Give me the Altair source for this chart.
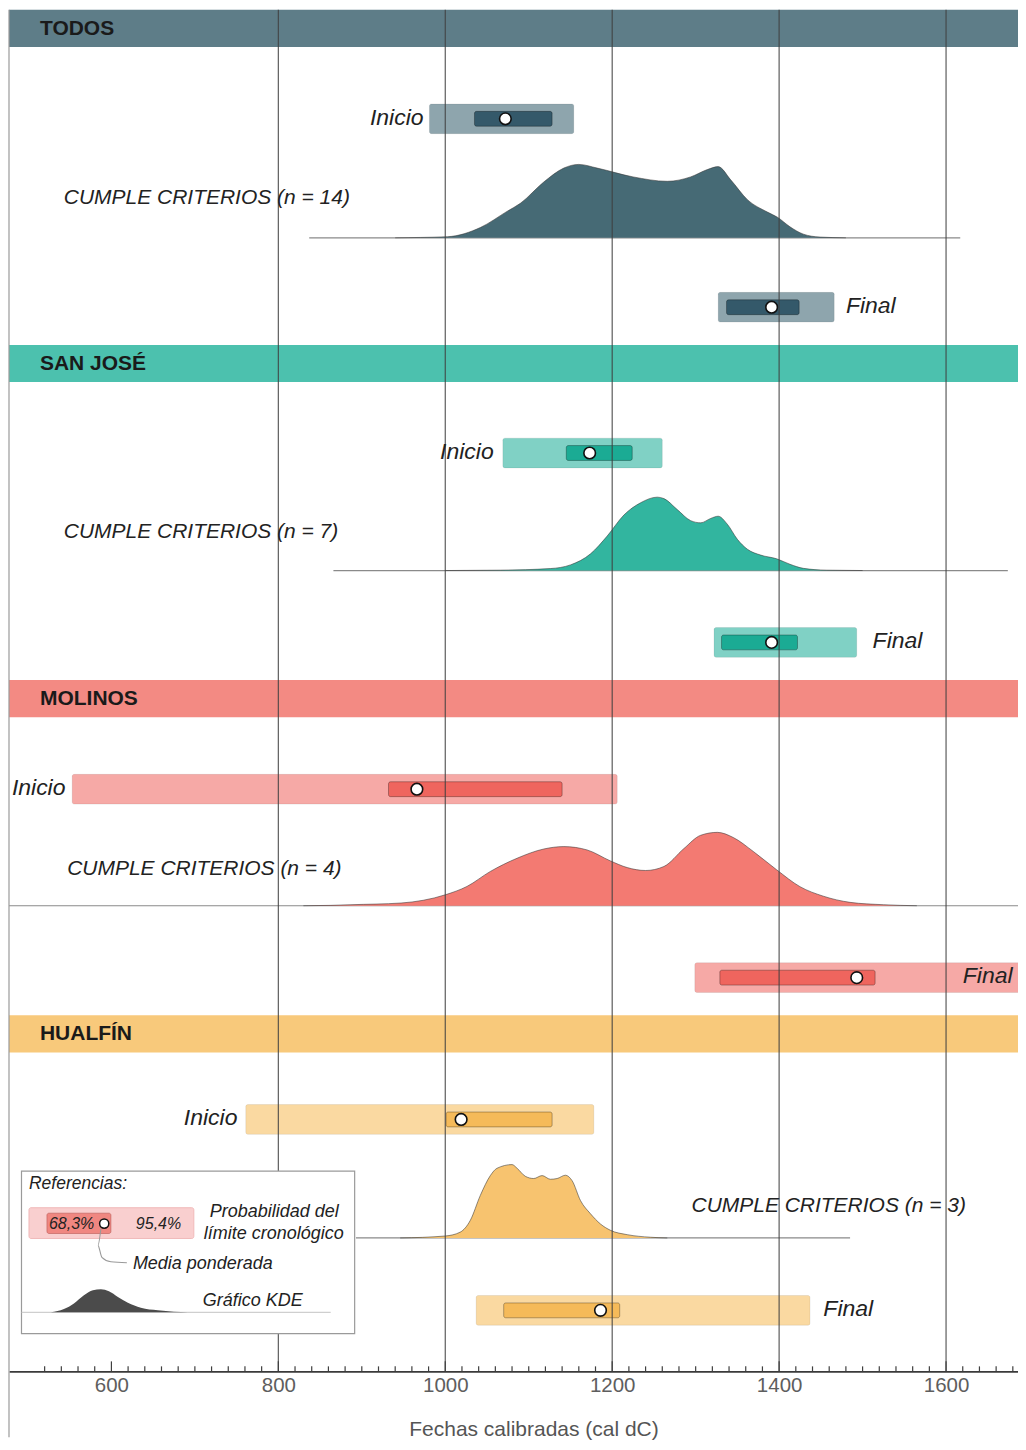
import altair as alt
import pandas as pd

# ------------------------------------------------------------------
# DATOS (años cal dC)
# ------------------------------------------------------------------
grupos = ["TODOS", "SAN JOSÉ", "MOLINOS", "HUALFÍN"]
n_fechas = [14, 7, 4, 3]

inicio_95_desde = [981, 1069, 553, 761]
inicio_95_hasta = [1154, 1260, 1206, 1178]
inicio_68_desde = [1035, 1145, 932, 1001]
inicio_68_hasta = [1128, 1224, 1140, 1128]
inicio_media = [1072, 1173, 966, 1019]

final_95_desde = [1327, 1322, 1299, 1037]
final_95_hasta = [1466, 1493, 1720, 1437]
final_68_desde = [1337, 1331, 1329, 1070]
final_68_hasta = [1424, 1422, 1515, 1209]
final_media = [1391, 1391, 1493, 1186]

# KDE (densidad relativa, % del máximo)
kde_todos_anio = [940, 970, 1003, 1042, 1074, 1090, 1118, 1142, 1160, 1182, 1225, 1266,
                  1294, 1314, 1327, 1342, 1362, 1386, 1398, 1413, 1429, 1449, 1480]
kde_todos_dens = [0, 0.5, 1.5, 14, 36, 47, 76, 95, 100, 95, 83, 77,
                  83, 93, 97, 79, 52, 35, 28, 15, 5, 1, 0]

kde_sanjose_anio = [1000, 1066, 1126, 1150, 1174, 1194, 1214, 1234, 1254, 1262, 1278, 1294,
                    1306, 1318, 1327, 1338, 1350, 1362, 1378, 1397, 1413, 1429, 1457, 1500]
kde_sanjose_dens = [0, 0.5, 2.7, 7.7, 22.7, 47, 75.6, 92.3, 100, 98, 83, 68,
                    65, 71, 74, 63, 42.5, 29, 21, 16, 8.5, 3, 0.5, 0]

kde_molinos_anio = [830, 863, 887, 947, 1000, 1026, 1054, 1086, 1118, 1142, 1170, 1198, 1218,
                    1240, 1262, 1286, 1306, 1326, 1345, 1369, 1397, 1425, 1453, 1485, 1525, 1565]
kde_molinos_dens = [0, 0.5, 1.4, 3.7, 14.9, 26.3, 46.7, 64.7, 77.3, 80.6, 76, 61, 52,
                    48, 53.5, 78, 96, 100, 93, 74, 49, 26, 13, 4.6, 1.4, 0]

kde_hualfin_anio = [946, 1000, 1018, 1030, 1042, 1054, 1062, 1080, 1086, 1096, 1106, 1116,
                    1126, 1134, 1144, 1152, 1162, 1174, 1186, 1198, 1218, 1246, 1266]
kde_hualfin_dens = [0, 2.7, 8, 24, 58, 85, 95, 100, 95, 84, 81, 85,
                    80, 81, 85.5, 78, 51, 33, 19, 10.4, 4.5, 1, 0]

kde_anios = [kde_todos_anio, kde_sanjose_anio, kde_molinos_anio, kde_hualfin_anio]
kde_dens = [kde_todos_dens, kde_sanjose_dens, kde_molinos_dens, kde_hualfin_dens]

# extensión de la línea base de cada KDE (años)
base_desde = [837, 866, 470, 893]
base_hasta = [1617, 1674, 1700, 1485]

# etiquetas
etq_inicio_x = [974, 1058, 545, 751]          # borde derecho del texto "Inicio"
etq_final_x = [1480, 1512, 1620, 1453]        # borde izquierdo del texto "Final"
etq_cumple_x = [543, 543, 547, 1295]
marcas_mayores = [600, 800, 1000, 1200, 1400, 1600]
lineas_guia = [800, 1000, 1200, 1400, 1600]
marcas_menores = [v for v in range(520, 1700, 20) if v not in marcas_mayores]

# colores
col_banda = ["#5e7d88", "#4cc1ae", "#f38a83", "#f8c97b"]
col_kde = ["#466a75", "#32b59f", "#f37a72", "#f7c36f"]
col_95 = ["#8ea5ad", "#80d1c5", "#f6a9a6", "#fad9a1"]
col_68 = ["#34596a", "#1bab94", "#ef655e", "#f5ba59"]

# leyenda: KDE esquemático (px ref)
ley_kde_x = [50, 63, 73, 83, 92, 100, 108, 117, 127, 140, 157, 173, 187]
ley_kde_h = [0, 3.3, 9, 17.3, 22.3, 23.3, 21.3, 15.6, 9.6, 4.6, 2, 0.6, 0]

# ------------------------------------------------------------------
# DISEÑO
# ------------------------------------------------------------------
W, H = 1010, 1363
Y0, Y1 = 4, 1377
X_DOM = [477.3, 1686.2]

banda_top = [4, 342, 680, 1018]
banda_alto = 37.5
y_inicio = [114, 451, 790, 1123]
y_final = [304, 642, 980, 1315.5]
y_base = [234, 569.5, 907.5, 1242.5]
y_cumple = [194, 531, 870, 1210]
kde_alto = 74
semi_95, semi_68 = 15, 7.5

FONT = "Liberation Sans"
xs = alt.Scale(domain=X_DOM, nice=False, zero=False)
ys = alt.Scale(domain=[Y0, Y1], reverse=True, nice=False, zero=False)

AX = alt.Axis(values=marcas_mayores, format="d", grid=False, ticks=False,
              domain=True, domainColor="#3a3a3a", domainWidth=1.6,
              labelFont=FONT, labelFontSize=20.5, labelColor="#5e5e5e", labelPadding=4,
              labelFlush=False, labelOverlap=False,
              title="Fechas calibradas (cal dC)", titleFont=FONT, titleFontSize=21,
              titleFontWeight="normal", titleColor="#555555",
              titleX=525, titleY=58, titleBaseline="middle", titleAlign="center")


def X(f):
    return alt.X(f, type="quantitative", scale=xs, axis=AX)


def Y(f):
    return alt.Y(f, type="quantitative", scale=ys, axis=None)


def py(v):
    return (v - Y0) * H / (Y1 - Y0)


# bandas
bandas = pd.DataFrame({
    "grupo": grupos,
    "y0": banda_top,
    "y1": [t + banda_alto for t in banda_top],
    "ym": [t + banda_alto / 2 + 0.5 for t in banda_top],
    "fill": col_banda,
})

# cajas
filas = []
for i in range(4):
    filas.append(dict(x=inicio_95_desde[i], x2=inicio_95_hasta[i], y=y_inicio[i] - semi_95,
                      y2=y_inicio[i] + semi_95, fill=col_95[i]))
    filas.append(dict(x=final_95_desde[i], x2=final_95_hasta[i], y=y_final[i] - semi_95,
                      y2=y_final[i] + semi_95, fill=col_95[i]))
cajas95 = pd.DataFrame(filas)
filas = []
for i in range(4):
    filas.append(dict(x=inicio_68_desde[i], x2=inicio_68_hasta[i], y=y_inicio[i] - semi_68,
                      y2=y_inicio[i] + semi_68, fill=col_68[i]))
    filas.append(dict(x=final_68_desde[i], x2=final_68_hasta[i], y=y_final[i] - semi_68,
                      y2=y_final[i] + semi_68, fill=col_68[i]))
cajas68 = pd.DataFrame(filas)

medias = pd.DataFrame({
    "x": inicio_media + final_media,
    "y": y_inicio + y_final,
})

# KDE
filas = []
for i in range(4):
    for a, d in zip(kde_anios[i], kde_dens[i]):
        filas.append(dict(grupo=grupos[i], x=a, ytop=y_base[i] - d / 100 * kde_alto,
                          ybase=y_base[i], fill=col_kde[i]))
kde = pd.DataFrame(filas)

bases = pd.DataFrame({"x": base_desde, "x2": base_hasta, "y": y_base})

# textos
txt_bandas = pd.DataFrame({"t": grupos, "y": bandas["ym"]})
txt_inicio = pd.DataFrame({"x": etq_inicio_x, "y": [v - 1 for v in y_inicio], "t": ["Inicio"] * 4})
txt_izq = pd.DataFrame({
    "x": etq_final_x + etq_cumple_x,
    "y": [v - 1.5 for v in y_final] + y_cumple,
    "t": ["Final"] * 4 + [f"CUMPLE CRITERIOS (n = {n})" for n in n_fechas],
    "fs": [23] * 4 + [21] * 4,
})

guias = pd.DataFrame({"x": lineas_guia})
marcas = pd.DataFrame({
    "x": marcas_mayores + marcas_menores,
    "ty": [H - 10] * len(marcas_mayores) + [H - 5] * len(marcas_menores),
    "ty2": [H] * (len(marcas_mayores) + len(marcas_menores)),
})

# ------------------------------------------------------------------
# CAPAS
# ------------------------------------------------------------------
c_bandas = alt.Chart(bandas).mark_rect().encode(
    x=alt.value(0), x2=alt.value(W), y=Y("y0"), y2="y1",
    fill=alt.Fill("fill:N", scale=None))

c_bases = alt.Chart(bases).mark_rule(color="#8a8a8a", strokeWidth=1.2, clip=True).encode(
    x=X("x"), x2="x2", y=Y("y"))

c_kde = alt.Chart(kde).mark_area(interpolate="monotone", opacity=1, fillOpacity=1).encode(
    x=X("x"), y=Y("ytop"), y2="ybase", fill=alt.Fill("fill:N", scale=None),
    detail="grupo:N")

c_kde_borde = alt.Chart(kde).mark_line(interpolate="monotone", color="#333333",
                                       strokeWidth=1, opacity=0.55).encode(
    x=X("x"), y=Y("ytop"), detail="grupo:N")

c_95 = alt.Chart(cajas95).mark_rect(cornerRadius=2, clip=True, stroke="#000000",
                                    strokeOpacity=0.08, strokeWidth=1).encode(
    x=X("x"), x2="x2", y=Y("y"), y2="y2", fill=alt.Fill("fill:N", scale=None))

c_68 = alt.Chart(cajas68).mark_rect(cornerRadius=2, stroke="#000000",
                                    strokeOpacity=0.3, strokeWidth=1).encode(
    x=X("x"), x2="x2", y=Y("y"), y2="y2", fill=alt.Fill("fill:N", scale=None))

c_guias = alt.Chart(guias).mark_rule(color="#3f3f3f", strokeWidth=1.2, opacity=0.85).encode(
    x=X("x"), y=alt.value(0), y2=alt.value(H))

c_marcas = alt.Chart(marcas).mark_rule(color="#3f3f3f", strokeWidth=1.2).encode(
    x=X("x"), y=alt.Y("ty:Q", scale=None, axis=None), y2="ty2")

# leyenda
ley_caja = pd.DataFrame({"x": [20.5 - 8], "x2": [354 - 8], "y": [py(1175)], "y2": [py(1339)]})
ley_rosa = pd.DataFrame({"x": [28 - 8], "x2": [193 - 8], "y": [py(1212)], "y2": [py(1243)]})
ley_rojo = pd.DataFrame({"x": [46 - 8], "x2": [110 - 8], "y": [py(1217.5)], "y2": [py(1238)]})
ley_punto = pd.DataFrame({"x": [103.3 - 8], "y": [py(1228)]})
ley_linea = pd.DataFrame({"x": [20.7 - 8], "x2": [330 - 8], "y": [py(1317.5)]})
ley_con = pd.DataFrame({"x": [100 - 8, 97 - 8, 101 - 8, 110 - 8, 126 - 8],
                        "y": [py(1233), py(1250), py(1262), py(1266.5), py(1267.5)],
                        "o": [0, 1, 2, 3, 4]})
ley_kde = pd.DataFrame({"x": [v - 8 for v in ley_kde_x],
                        "y": [py(1317.5 - h) for h in ley_kde_h],
                        "y2": [py(1317.5)] * len(ley_kde_x)})
ley_txt = pd.DataFrame({
    "x": [28 - 8, 48 - 8, 135 - 8, 209 - 8, 203 - 8, 132 - 8, 202 - 8],
    "y": [py(1188), py(1228), py(1228), py(1216.5), py(1239), py(1269), py(1306.5)],
    "t": ["Referencias:", "68,3%", "95,4%", "Probabilidad del", "límite cronológico",
          "Media ponderada", "Gráfico KDE"],
    "fs": [17.5, 16, 16, 18, 18, 18, 18],
})

PX = lambda f: alt.X(f, type="quantitative", scale=None, axis=None)
PY = lambda f: alt.Y(f, type="quantitative", scale=None, axis=None)

c_ley_caja = alt.Chart(ley_caja).mark_rect(fill="white", stroke="#9a9a9a", strokeWidth=1.2).encode(
    x=PX("x"), x2="x2", y=PY("y"), y2="y2")
c_ley_rosa = alt.Chart(ley_rosa).mark_rect(fill="#f9cfcf", stroke="#f0b9b9", cornerRadius=2).encode(
    x=PX("x"), x2="x2", y=PY("y"), y2="y2")
c_ley_rojo = alt.Chart(ley_rojo).mark_rect(fill="#f08781", stroke="#b95a55", strokeOpacity=0.6,
                                           cornerRadius=2).encode(
    x=PX("x"), x2="x2", y=PY("y"), y2="y2")
c_ley_linea = alt.Chart(ley_linea).mark_rule(color="#cfcfcf", strokeWidth=1.2).encode(
    x=PX("x"), x2="x2", y=PY("y"))
c_ley_kde = alt.Chart(ley_kde).mark_area(color="#4b4b4b", interpolate="monotone",
                                         opacity=1).encode(
    x=PX("x"), y=PY("y"), y2="y2")
c_ley_con = alt.Chart(ley_con).mark_line(color="#9a9a9a", strokeWidth=1.1, interpolate="monotone").encode(
    x=PX("x"), y=PY("y"), order="o:Q")
c_ley_punto = alt.Chart(ley_punto).mark_point(shape="circle", filled=True, fill="white",
                                              stroke="#111111", strokeWidth=1.5, size=85,
                                              opacity=1).encode(x=PX("x"), y=PY("y"))
c_ley_txt = alt.Chart(ley_txt).mark_text(align="left", baseline="middle", font=FONT,
                                         fontStyle="italic", color="#222222").encode(
    x=PX("x"), y=PY("y"), text="t:N", size=alt.Size("fs:Q", scale=None))

# textos principales
c_txt_bandas = alt.Chart(txt_bandas).mark_text(align="left", baseline="middle", font=FONT,
                                               fontSize=21, fontWeight="bold",
                                               color="#1a1a1a").encode(
    x=alt.value(31), y=Y("y"), text="t:N")
c_txt_inicio = alt.Chart(txt_inicio).mark_text(align="right", baseline="middle", font=FONT,
                                               fontSize=23, fontStyle="italic",
                                               color="#222222").encode(
    x=X("x"), y=Y("y"), text="t:N")
c_txt_izq = alt.Chart(txt_izq).mark_text(align="left", baseline="middle", font=FONT,
                                         fontStyle="italic", color="#222222").encode(
    x=X("x"), y=Y("y"), text="t:N", size=alt.Size("fs:Q", scale=None))

c_medias = alt.Chart(medias).mark_point(shape="circle", filled=True, fill="white",
                                        stroke="#111111", strokeWidth=1.6, size=135,
                                        opacity=1).encode(x=X("x"), y=Y("y"))

borde = pd.DataFrame({"a": [0]})
c_borde = alt.Chart(borde).mark_rule(color="#9a9a9a", strokeWidth=1.2).encode(
    x=alt.value(0), y=alt.value(0), y2=alt.value(H + 66))

chart = alt.layer(
    c_bandas, c_bases, c_kde, c_kde_borde, c_95, c_68, c_guias, c_marcas,
    c_ley_caja, c_ley_linea, c_ley_kde, c_ley_rosa, c_ley_rojo, c_ley_con, c_ley_punto, c_ley_txt,
    c_txt_bandas, c_txt_inicio, c_txt_izq, c_medias, c_borde,
).properties(width=W, height=H, padding=0).configure_view(strokeWidth=0)

chart.save("out.html", embed_options={"renderer": "svg", "actions": False})
